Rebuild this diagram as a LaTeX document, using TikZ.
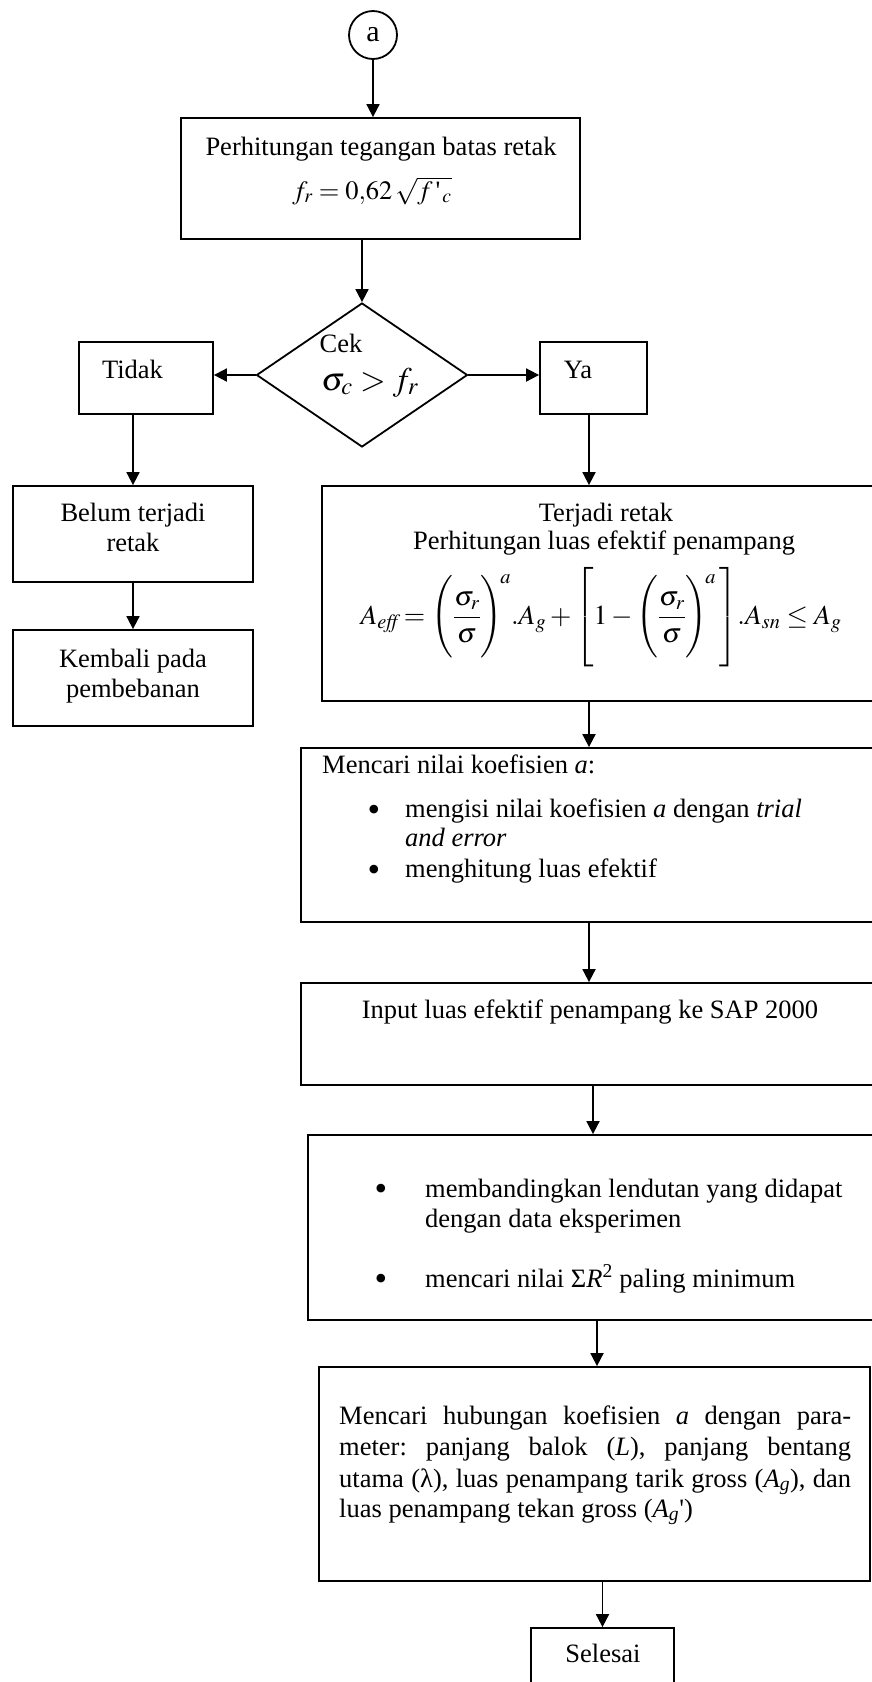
\documentclass[tikz,border=0pt]{standalone}
\usepackage{amsmath}
\usepackage{mathptmx}
\usepackage{fontspec}
\setmainfont{Liberation Serif}
\usetikzlibrary{arrows.meta,shapes.geometric}
\newcommand{\fsz}{\fontsize{26.5}{30}\selectfont\frenchspacing}
\newcommand{\fbig}{\fontsize{33}{36}\selectfont}
\newcommand{\feq}{\fontsize{27.5}{32}\selectfont}
\newcommand{\fbul}{\fontsize{36}{40}\selectfont}
\newcommand{\tallP}{\vcenter{\hrule height 76pt width 0pt}}
\newcommand{\tallB}{\vcenter{\hrule height 92pt width 0pt}}
\begin{document}
\begin{tikzpicture}[x=1pt,y=-1pt,
  every node/.style={font=\fsz},
  box/.style={draw, line width=1.8pt, rectangle, inner sep=0pt},
  txt/.style={inner sep=0pt, anchor=base},
  txtl/.style={inner sep=0pt, anchor=base west},
  bul/.style={inner sep=0pt, anchor=base, font=\fbul},
  arr/.style={line width=1.8pt, -{Triangle[length=13pt,width=13pt]}}]
\useasboundingbox (0,0) rectangle (872,1682);

% shapes
\node[draw, circle, line width=1.8pt, inner sep=0pt, minimum size=48pt, font=\fontsize{30}{34}\selectfont] (a) at (373,35) {a};
\node[box, minimum width=399pt, minimum height=121pt] (b1) at (380.5,178.5) {};
\node[draw, diamond, line width=1.8pt, inner sep=0pt, minimum width=211pt, minimum height=144pt] (dia) at (362,375) {};
\node[box, minimum width=134pt, minimum height=72pt] (tidak) at (146,378) {};
\node[box, minimum width=107pt, minimum height=72pt] (ya) at (593.5,378) {};
\node[box, minimum width=240pt, minimum height=96pt] (belum) at (133,534) {};
\node[box, minimum width=240pt, minimum height=96pt] (kembali) at (133,678) {};
\node[box, minimum width=564pt, minimum height=215pt] (big) at (604,593.5) {};
\node[box, minimum width=576pt, minimum height=174pt] (cari) at (589,835) {};
\node[box, minimum width=578pt, minimum height=102pt] (input) at (590,1034) {};
\node[box, minimum width=578pt, minimum height=185pt] (banding) at (597,1227.5) {};
\node[box, minimum width=551pt, minimum height=214pt] (hub) at (594.5,1474) {};
\node[box, minimum width=143pt, minimum height=144pt] (selesai) at (602.5,1700) {};

% texts
\node[txt] (t1) at (381,155) {Perhitungan tegangan batas retak};
\node[txt] (t1f) at (372,199) {$f_r = 0{,}62\,\sqrt{f\,\mbox{\textquotesingle}_{\,c}}$};
\node[txt] (tcek) at (341,352) {Cek};
\node[txt, font=\fbig] (tcekf) at (370,390) {$\sigma_c > f_r$};
\node[txt] (ttidak) at (132.5,378) {Tidak};
\node[txt] (tya) at (578,378) {Ya};
\node[txt] (tb1) at (133,521) {Belum terjadi};
\node[txt] (tb2) at (133,551) {retak};
\node[txt] (tk1) at (133,667) {Kembali pada};
\node[txt] (tk2) at (133,697) {pembebanan};
\node[txt] (tr1) at (606,521) {Terjadi retak};
\node[txt] (tr2) at (604,549) {Perhitungan luas efektif penampang};
\node[txt, font=\feq] (tr3) at (601,624) {\smash{$A_{\mathit{eff}}\!= \left(\tallP\displaystyle\frac{\sigma_r}{\sigma}\right)^{\!a}\!.A_g+\left[\tallB 1-\left(\tallP\displaystyle\frac{\sigma_r}{\sigma}\right)^{\!a}\,\right]\!.A_{sn}\le A_g$}};
\node[txtl] (tc1) at (322,773) {Mencari nilai koefisien \textit{a}:};
\node[bul] (tcb1) at (374,821) {•};
\node[txtl] (tc2) at (405,817) {mengisi nilai koefisien \textit{a} dengan \textit{trial}};
\node[txtl] (tc3) at (405,846) {\textit{and error}};
\node[bul] (tcb2) at (374,881) {•};
\node[txtl] (tc4) at (405,877) {menghitung luas efektif};
\node[txt] (ti) at (590,1018) {Input luas efektif penampang ke SAP 2000};
\node[bul] (tbb1) at (381,1200) {•};
\node[txtl] (tbd1) at (425,1197) {membandingkan lendutan yang didapat};
\node[txtl] (tbd2) at (425,1227) {dengan data eksperimen};
\node[bul] (tbb2) at (381,1290) {•};
\node[txtl] (tbd3) at (425,1287) {mencari nilai Σ\textit{R}\textsuperscript{2} paling minimum};
\node[txtl] (th1) at (339,1424) {\makebox[512pt][s]{Mencari hubungan koefisien \textit{a} dengan para-}};
\node[txtl] (th2) at (339,1455) {\makebox[512pt][s]{meter: panjang balok (\textit{L}), panjang bentang}};
\node[txtl] (th3) at (339,1487) {\makebox[512pt][s]{utama (λ), luas penampang tarik gross (\textit{A}\textsubscript{\textit{g}}), dan}};
\node[txtl] (th4) at (339,1517) {luas penampang tekan gross (\textit{A}\textsubscript{\textit{g}}\textquotesingle)};
\node[txt] (ts) at (603,1662) {Selesai};

% connectors
\draw[arr] (a.south) -- (a.south |- b1.north);
\draw[arr] (b1.south -| dia.north) -- (dia.north);
\draw[arr] (dia.west) -- (dia.west -| tidak.east);
\draw[arr] (dia.east) -- (dia.east -| ya.west);
\draw[arr] (belum.north |- tidak.south) -- (belum.north);
\draw[arr] (belum.south) -- (kembali.north);
\draw[arr] (ya.south -| 589,0) -- (big.north -| 589,0);
\draw[arr] (big.south -| 589,0) -- (cari.north -| 589,0);
\draw[arr] (cari.south -| 589,0) -- (input.north -| 589,0);
\draw[arr] (input.south -| 593,0) -- (banding.north -| 593,0);
\draw[arr] (banding.south -| 597,0) -- (hub.north -| 597,0);
\draw[arr] (hub.south -| selesai.north) -- (selesai.north);
\end{tikzpicture}
\end{document}
